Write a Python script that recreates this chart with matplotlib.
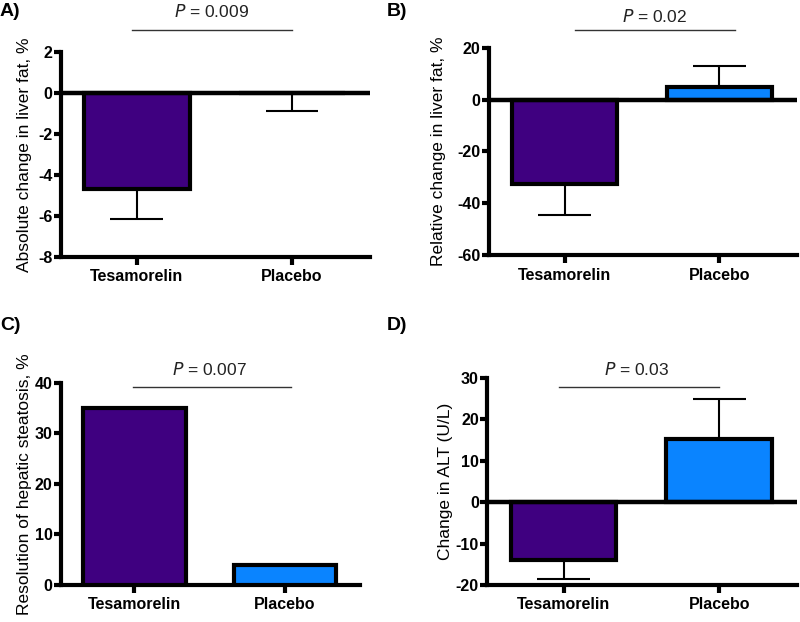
import matplotlib
matplotlib.use("Agg")
import matplotlib.pyplot as plt

plt.rcParams['font.family'] = ['Liberation Sans', 'DejaVu Sans']
plt.rcParams['axes.unicode_minus'] = False

groups = ["Tesamorelin", "Placebo"]
colors = ["#3f0080", "#0a84ff"]

# mean change and one-sided error (away from zero)
abs_fat = [-4.7, -0.02]
abs_fat_err = [1.45, 0.86]
rel_fat = [-32.5, 5.0]
rel_fat_err = [12.0, 8.0]
resolution = [35.0, 4.0]
alt_change = [-14.0, 15.3]
alt_err = [4.6, 9.7]

p_values = ["0.009", "0.02", "0.007", "0.03"]


def draw_panel(fig, rect, values, errs, ylim, yticks, ylabel, pval,
               label_x, p_line, p_text, zero_line=True):
    ax = fig.add_axes(rect)
    x = [0, 1]
    ax.bar(x, values, width=0.68, color=colors, edgecolor="black",
           linewidth=3, zorder=3)
    if errs is not None:
        for xi, v, e in zip(x, values, errs):
            end = v - e if v < 0 else v + e
            ax.vlines(xi, v, end, color="black", linewidth=1.5, zorder=2)
            ax.hlines(end, xi - 0.17, xi + 0.17, color="black",
                      linewidth=1.5, zorder=2)
    if zero_line:
        ax.axhline(0, color="black", linewidth=3.2, zorder=4)

    ax.set_xlim(-0.49, 1.5)
    ax.set_ylim(*ylim)
    ax.set_yticks(yticks)
    ax.set_xticks(x)
    ax.set_xticklabels(groups)
    for s in ["top", "right"]:
        ax.spines[s].set_visible(False)
    for s in ["left", "bottom"]:
        ax.spines[s].set_linewidth(3)
    ax.tick_params(axis="x", length=6, width=3, pad=3, labelsize=11.5)
    ax.tick_params(axis="y", length=5, width=3, pad=1, labelsize=11.5)
    for lab in ax.get_xticklabels() + ax.get_yticklabels():
        lab.set_fontweight("bold")
    ax.set_ylabel(ylabel, fontsize=12.5)
    ax.yaxis.set_label_coords(label_x, 0.5)

    ax.plot(p_line[0], [p_line[1], p_line[1]], color="#333333",
            linewidth=1, clip_on=False)
    ax.text(p_text[0], p_text[1], "$\\it{P}$ = " + pval, ha="center",
            va="center", fontsize=12.5, color="#222222")
    return ax


fig = plt.figure(figsize=(8, 6.22), dpi=100)

draw_panel(fig, [0.076, 0.587, 0.386, 0.330], abs_fat, abs_fat_err,
           (-8, 2), [-8, -6, -4, -2, 0, 2], "Absolute change in liver fat, %",
           p_values[0], -0.093, ([-0.03, 1.0], 3.07), (0.48, 3.95))
draw_panel(fig, [0.611, 0.590, 0.385, 0.333], rel_fat, rel_fat_err,
           (-60, 20), [-60, -40, -20, 0, 20], "Relative change in liver fat, %",
           p_values[1], -0.14, ([0.07, 1.1], 27.1), (0.58, 32.0))
draw_panel(fig, [0.076, 0.0595, 0.374, 0.325], resolution, None,
           (0, 40), [0, 10, 20, 30, 40], "Resolution of hepatic steatosis, %",
           p_values[2], -0.097, ([-0.01, 1.04], 39.2), (0.5, 42.6),
           zero_line=False)
draw_panel(fig, [0.609, 0.0595, 0.3875, 0.333], alt_change, alt_err,
           (-20, 30), [-20, -10, 0, 10, 20, 30], "Change in ALT (U/L)",
           p_values[3], -0.11, ([-0.03, 1.0], 27.8), (0.47, 31.9))

for letter, (lx, ly) in zip(["A)", "B)", "C)", "D)"],
                            [(0, 12), (387, 12), (0, 325), (387, 325)]):
    fig.text(lx / 800, 1 - ly / 622, letter, fontsize=14, fontweight="bold",
             ha="left", va="center")

fig.savefig("out.png", dpi=100)
